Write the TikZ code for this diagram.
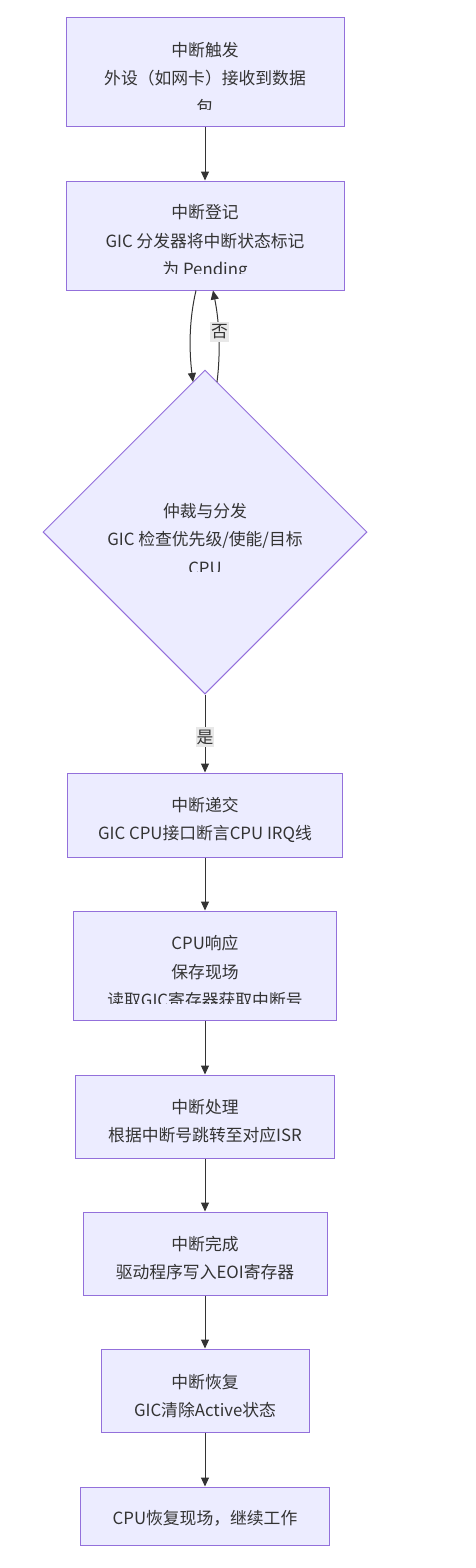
\documentclass[tikz,border=0pt]{standalone}
\usepackage{fontspec}
\setmainfont{Noto Sans CJK SC}
\usetikzlibrary{arrows.meta,shapes.geometric}
\definecolor{boxfill}{HTML}{ECECFF}
\definecolor{boxline}{HTML}{9370DB}
\definecolor{txt}{HTML}{333333}
\definecolor{lblbg}{HTML}{E8E8E8}
\tikzset{
  box/.style={draw=boxline, fill=boxfill, line width=1pt, inner sep=0pt},
  dia/.style={diamond, draw=boxline, fill=boxfill, line width=1pt, inner sep=0pt, aspect=1},
  lbl/.style={text=txt, align=center, font=\fontsize{16.8}{28.5}\selectfont, inner sep=0pt},
  arr/.style={draw=txt, line width=1pt, -{Triangle[length=9pt,width=8pt]}},
  edgelbl/.style={fill=lblbg, text=txt, font=\fontsize{16.8}{20}\selectfont, inner xsep=1pt, inner ysep=3pt}
}
\begin{document}
\begin{tikzpicture}[x=1pt,y=-1pt]
\useasboundingbox (0,0) rectangle (476,1568);
\fill[white] (0,0) rectangle (476,1568);
% boxes
\node[box, minimum width=278pt, minimum height=109pt] (n1) at (205,72.5) {};
\node[box, minimum width=278pt, minimum height=109pt] (n2) at (205,235.5) {};
\node[dia, minimum width=324pt, minimum height=324pt] (d) at (205,532) {};
\node[box, minimum width=275pt, minimum height=84pt] (n3) at (205,815) {};
\node[box, minimum width=263pt, minimum height=109pt] (n4) at (205,965.5) {};
\node[box, minimum width=259pt, minimum height=83pt] (n5) at (205,1116.5) {};
\node[box, minimum width=244pt, minimum height=83pt] (n6) at (205,1253.5) {};
\node[box, minimum width=208pt, minimum height=83pt] (n7) at (205,1390.5) {};
\node[box, minimum width=249pt, minimum height=58pt] (n8) at (205,1516) {};
% texts (clipped as in the reference)
\begin{scope}
\clip (60,20) rectangle (350,110);
\node[lbl] (t1) at (205,78) {中断触发\\外设（如网卡）接收到数据\\包};
\end{scope}
\begin{scope}
\clip (60,183) rectangle (350,273.5);
\node[lbl] (t2) at (205,242.5) {中断登记\\GIC 分发器将中断状态标记\\为 Pending};
\end{scope}
\begin{scope}
\clip (60,480) rectangle (350,571);
\node[lbl] (td) at (205,539) {仲裁与分发\\GIC 检查优先级/使能/目标\\CPU};
\end{scope}
\node[lbl] (t3) at (205,820) {中断递交\\GIC CPU接口断言CPU IRQ线};
\begin{scope}
\clip (60,913) rectangle (350,1003);
\node[lbl] (t4) at (205,972) {CPU响应\\保存现场\\读取GIC寄存器获取中断号};
\end{scope}
\node[lbl] (t5) at (205,1121) {中断处理\\根据中断号跳转至对应ISR};
\node[lbl] (t6) at (205,1258) {中断完成\\驱动程序写入EOI寄存器};
\node[lbl] (t7) at (205,1396) {中断恢复\\GIC清除Active状态};
\node[lbl] (t8) at (205,1518) {CPU恢复现场，继续工作};
% coordinates
\coordinate (a2) at (196,290.5);
\coordinate (b2) at (213,290.5);
\coordinate (dl) at (193,382);
\coordinate (dr) at (217,382);
% edges
\draw[arr] (n1.south) -- (n2.north);
\draw[arr] (a2) .. controls (189,320) and (189,350) .. (dl);
\draw[arr] (dr) .. controls (221,350) and (219,320) .. (b2);
\node[edgelbl] (no) at (219.5,332) {否};
\draw[arr] (d.south) -- (n3.north);
\node[edgelbl] (yes) at (205,737) {是};
\draw[arr] (n3.south) -- (n4.north);
\draw[arr] (n4.south) -- (n5.north);
\draw[arr] (n5.south) -- (n6.north);
\draw[arr] (n6.south) -- (n7.north);
\draw[arr] (n7.south) -- (n8.north);
\end{tikzpicture}
\end{document}
